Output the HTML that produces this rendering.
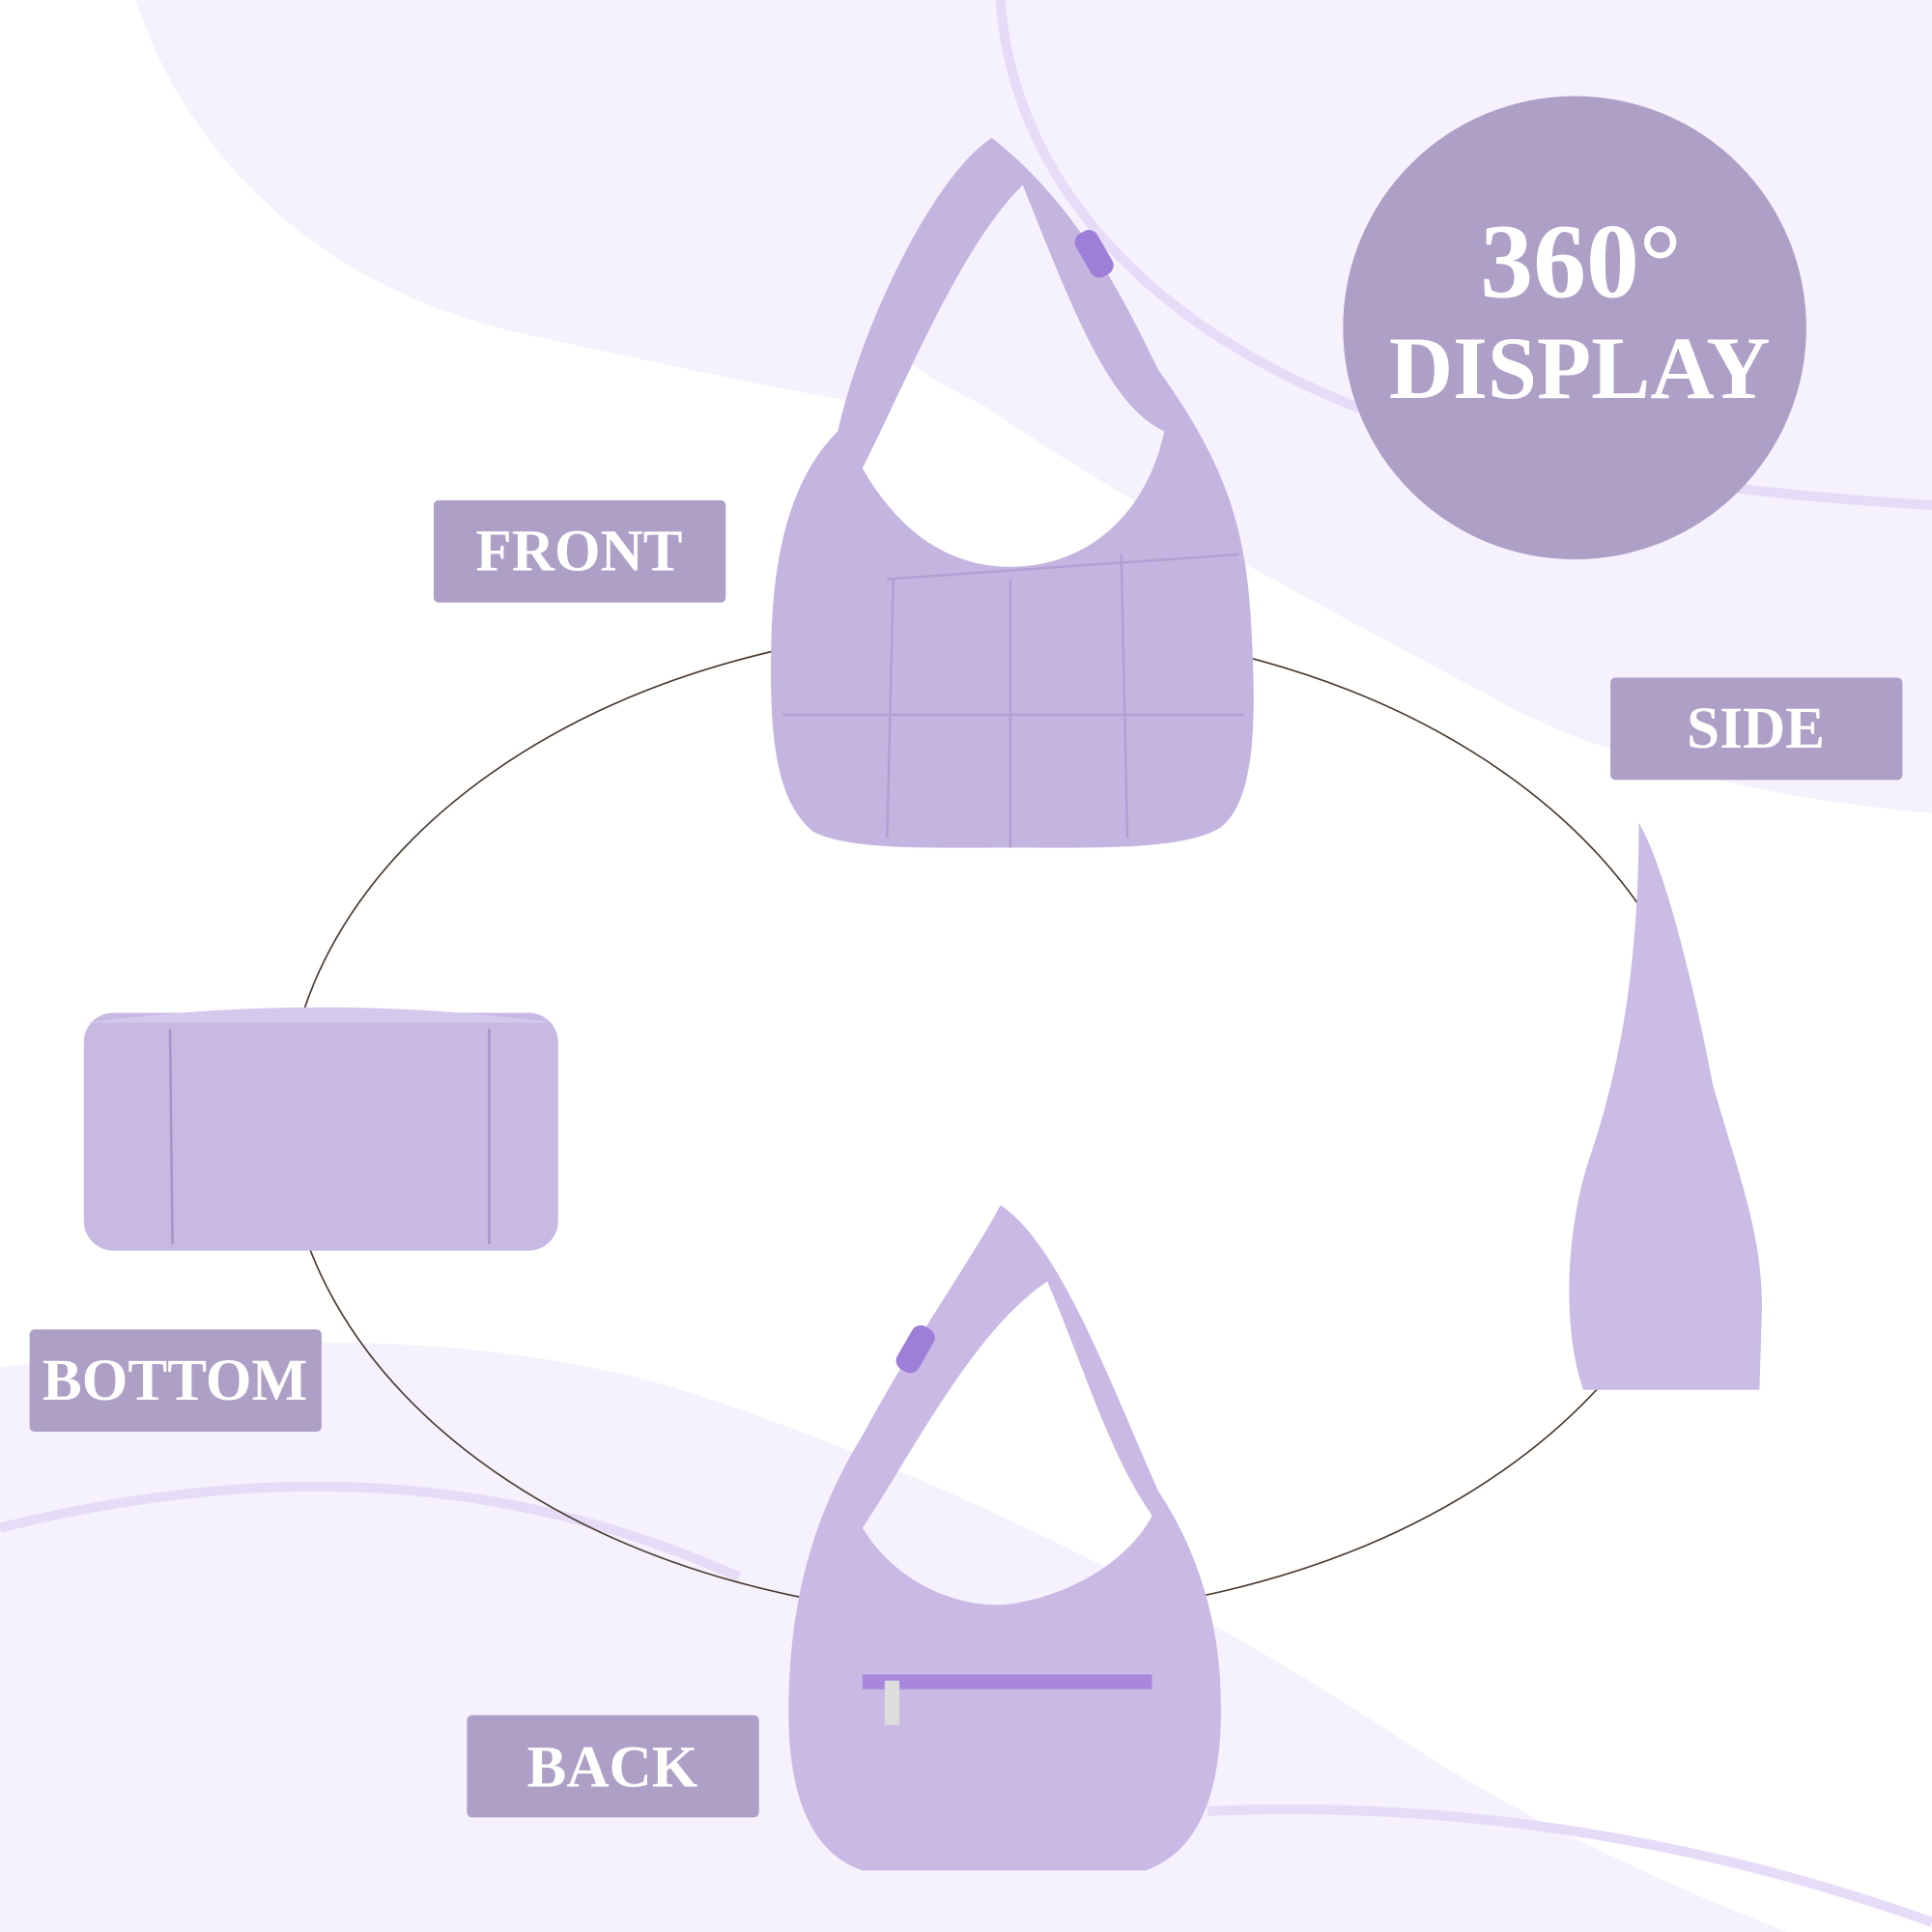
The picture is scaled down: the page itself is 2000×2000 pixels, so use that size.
<!DOCTYPE html>
<html><head><meta charset="utf-8"><style>
html,body{margin:0;padding:0;background:#fff}
svg{display:block}
text{font-family:"Liberation Serif",serif;fill:#fff;font-weight:bold}
</style></head><body>
<svg width="2000" height="2000" viewBox="0 0 1568 1568" xmlns="http://www.w3.org/2000/svg">
<rect width="1568" height="1568" fill="#fff"/>
<path d="M110 0 C150 120 250 230 420 270 C560 300 650 320 720 330 L720 0 Z" fill="#f6f2fd"/>
<path d="M720 0 L1568 0 L1568 660 C1450 650 1300 620 1200 560 C1050 480 900 400 800 330 C700 280 650 250 720 0Z" fill="#f6f2fd"/>
<path d="M812 0 C820 120 900 250 1100 330 C1250 380 1400 400 1568 410" fill="none" stroke="#e6dcf8" stroke-width="8"/>
<path d="M0 1110 C200 1080 400 1080 560 1130 C800 1210 1000 1320 1150 1420 C1260 1490 1380 1540 1450 1568 L0 1568 Z" fill="#f6f2fd"/>
<path d="M0 1240 C200 1190 400 1190 600 1280" fill="none" stroke="#e6dcf8" stroke-width="8"/>
<path d="M980 1470 C1200 1460 1400 1500 1568 1560" fill="none" stroke="#e6dcf8" stroke-width="8"/>
<ellipse cx="810" cy="910" rx="578" ry="402" fill="none" stroke="#4a3a30" stroke-width="1.3"/>
<!-- front bag -->
<path d="M805 112 C760 140 700 260 680 350 C650 380 628 430 626 520 C624 600 630 650 660 675 C690 690 750 688 820 688 C890 688 960 690 990 672 C1020 650 1020 580 1015 500 C1010 420 990 370 940 300 C920 260 880 170 805 112 Z M700 380 C740 450 790 460 820 460 C880 460 930 420 945 350 C900 330 870 250 830 150 C780 200 740 300 700 380Z" fill="#c4b4e0" fill-rule="evenodd"/>
<path d="M720 470 L1005 450 M635 580 L1010 580 M725 470 L720 680 M820 470 L820 688 M910 450 L915 680" stroke="#b39fd4" stroke-width="2" fill="none"/>
<rect x="878" y="186" width="20" height="40" rx="8" fill="#9d7fd8" transform="rotate(-30 888 206)"/>
<!-- side bag -->
<path d="M1330 668 C1350 700 1375 800 1390 880 C1410 950 1430 1000 1430 1060 L1428 1128 L1285 1128 C1268 1080 1270 1000 1290 940 C1310 880 1330 800 1330 668Z" fill="#cbbce6"/>
<!-- bottom bag -->
<rect x="68" y="822" width="385" height="193" rx="24" fill="#c8b9e3"/>
<path d="M70 830 Q260 805 450 830" fill="#d4c8ec"/>
<path d="M138 835 L140 1010 M397 835 L397 1010" stroke="#a894c9" stroke-width="2"/>
<!-- back bag -->
<path d="M812 978 C790 1020 740 1090 700 1165 C660 1230 640 1300 640 1390 C640 1460 660 1505 700 1518 L930 1518 C980 1500 995 1440 990 1360 C985 1290 960 1240 940 1210 C900 1120 860 1010 812 978Z M700 1240 C730 1290 790 1310 830 1300 C880 1290 920 1260 935 1230 C900 1180 880 1110 850 1040 C790 1080 740 1180 700 1240Z" fill="#c9b9e4" fill-rule="evenodd"/>
<path d="M700 1365 L935 1365" stroke="#a987dd" stroke-width="12"/>
<rect x="718" y="1364" width="12" height="36" fill="#ddd"/>
<rect x="733" y="1075" width="20" height="40" rx="8" fill="#9d7fd8" transform="rotate(30 743 1095)"/>
<circle cx="1278" cy="266" r="188" fill="#ae9fc6"/>
<text x="1283" y="241" font-size="86" text-anchor="middle">360°</text>
<text x="1282" y="323" font-size="72" text-anchor="middle">DISPLAY</text>
<rect x="352" y="406" width="237" height="83" rx="4" fill="#ae9fc6"/>
<text x="470" y="463" font-size="48" text-anchor="middle">FRONT</text>
<rect x="1307" y="550" width="237" height="83" rx="4" fill="#ae9fc6"/>
<text x="1425" y="607" font-size="48" text-anchor="middle">SIDE</text>
<rect x="24" y="1079" width="237" height="83" rx="4" fill="#ae9fc6"/>
<text x="142" y="1136" font-size="48" text-anchor="middle">BOTTOM</text>
<rect x="379" y="1392" width="237" height="83" rx="4" fill="#ae9fc6"/>
<text x="497" y="1450" font-size="48" text-anchor="middle">BACK</text>
</svg>
</body></html>
